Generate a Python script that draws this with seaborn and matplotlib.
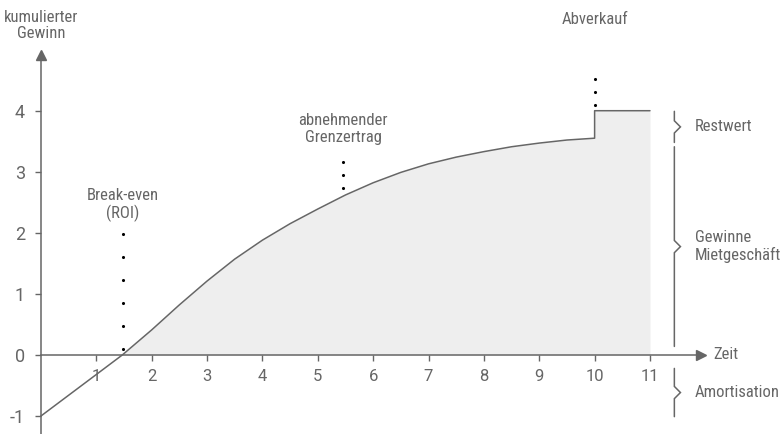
import numpy as np
import pandas as pd
import matplotlib.pyplot as plt
import seaborn as sns

# Kurve: kumulierter Gewinn über die Zeit (Sprung beim Abverkauf)
zeit = [0, 0.5, 1, 1.47, 2, 2.5, 3, 3.5, 4, 4.5, 5, 5.5, 6, 6.5, 7, 7.5, 8, 8.5, 9, 9.5, 10, 10, 11]
gewinn = [-1, -0.66, -0.32, 0, 0.41, 0.82, 1.21, 1.57, 1.88, 2.15, 2.39, 2.62, 2.82, 2.99, 3.13, 3.24, 3.33, 3.41, 3.47, 3.52, 3.55, 4, 4]

x_ticks = [1, 2, 3, 4, 5, 6, 7, 8, 9, 10, 11]
y_ticks = [-1, 0, 1, 2, 3, 4]

# Punktreihen über den Markierungen
dots_x = [1.48] * 6 + [5.46] * 3 + [10.0] * 3
dots_y = [0.10, 0.47, 0.85, 1.22, 1.60, 1.98, 2.73, 2.94, 3.16, 4.10, 4.30, 4.52]

# Klammern rechts: (oben, unten, Beschriftung)
klammern = [(3.99, 3.48, 'Restwert'),
            (3.41, 0.14, 'Gewinne\nMietgeschäft'),
            (-0.22, -1.01, 'Amortisation')]

grau = '#666666'

sns.set_style('white')
plt.rcParams['font.family'] = ['Roboto Condensed', 'Liberation Sans Narrow', 'Roboto', 'DejaVu Sans']
plt.rcParams['axes.unicode_minus'] = False

fig = plt.figure(figsize=(7.82, 4.34), dpi=100)
ax = fig.add_axes([0, 0, 1, 1])
ax.set_xlim(-0.7386, 13.384)
ax.set_ylim(-1.294, 5.813)

df = pd.DataFrame({'zeit': zeit, 'gewinn': gewinn})
g = np.array(gewinn)
ax.fill_between(zeit, gewinn, 0, where=g >= 0, interpolate=True,
                color='#eeeeee', lw=0, zorder=0)
sns.lineplot(data=df, x='zeit', y='gewinn', estimator=None, sort=False,
             color=grau, lw=1.1, ax=ax, zorder=3)
ax.set_xlabel('')
ax.set_ylabel('')

# Achsen
for s in ['top', 'right']:
    ax.spines[s].set_visible(False)
ax.spines['left'].set_position(('data', 0))
ax.spines['bottom'].set_position(('data', 0))
ax.spines['left'].set_bounds(-1.294, 4.92)
ax.spines['bottom'].set_bounds(0, 11.93)
for s in ['left', 'bottom']:
    ax.spines[s].set_color(grau)
    ax.spines[s].set_linewidth(1.1)
ax.plot([0], [4.91], marker='^', ms=7, color=grau, clip_on=False)
ax.plot([11.93], [0], marker='>', ms=7, color=grau, clip_on=False)

ax.set_xticks(x_ticks)
ax.set_yticks(y_ticks)
ax.tick_params(axis='x', direction='out', length=4, width=1, color=grau,
               labelcolor=grau, labelsize=12, pad=6, bottom=True)
ax.tick_params(axis='y', direction='out', length=4.5, width=1, color=grau,
               labelcolor=grau, labelsize=13, pad=7, left=True)
for lab in ax.get_xticklabels() + ax.get_yticklabels():
    lab.set_family(['Roboto', 'DejaVu Sans'])

# Punkte
ax.scatter(dots_x, dots_y, s=5, color='black', zorder=4, lw=0)

# Beschriftungen
txt = dict(color=grau, fontsize=12, linespacing=1.1)
ax.text(0, 5.39, 'kumulierter\nGewinn', ha='center', va='center', **txt)
ax.text(1.48, 2.46, 'Break-even\n(ROI)', ha='center', va='center', **txt)
ax.text(5.46, 3.70, 'abnehmender\nGrenzertrag', ha='center', va='center', **txt)
ax.text(10.0, 5.50, 'Abverkauf', ha='center', va='center', **txt)
ax.text(12.15, 0.0, 'Zeit', ha='left', va='center', **txt)

kx, kd, kh = 11.44, 0.11, 0.1
for oben, unten, label in klammern:
    mitte = (oben + unten) / 2
    ax.plot([kx, kx, kx + kd, kx, kx], [oben, mitte + kh, mitte, mitte - kh, unten],
            color=grau, lw=1.1, solid_joinstyle='miter')
    ax.text(11.81, mitte, label, ha='left', va='center', **txt)

fig.savefig('out.png', dpi=100)
